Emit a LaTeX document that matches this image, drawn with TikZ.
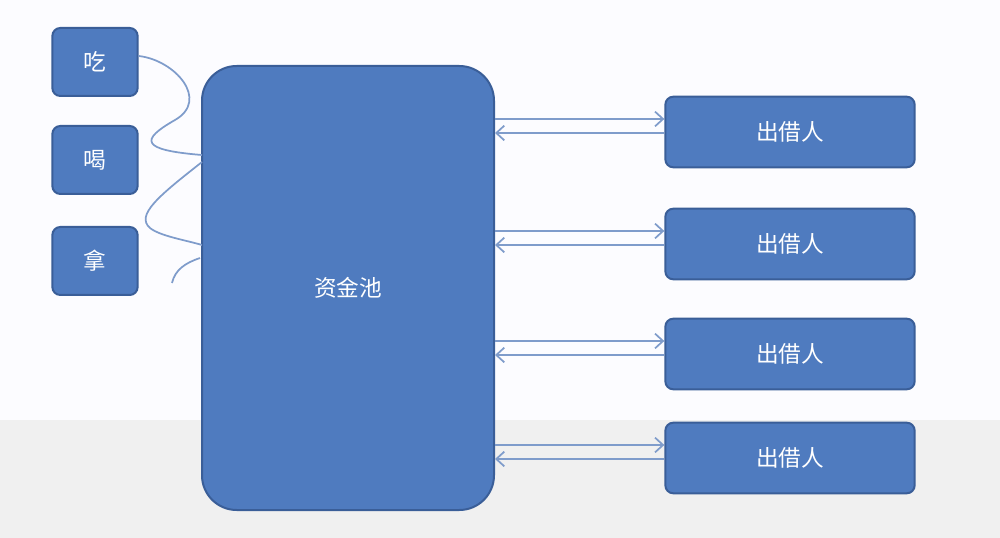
\documentclass[tikz,border=0pt]{standalone}
\usepackage{fontspec}
\newfontfamily\cjk{Noto Sans CJK SC}
\usetikzlibrary{arrows.meta}
\definecolor{bfill}{HTML}{4F7BBF}
\definecolor{bdraw}{HTML}{3A5E98}
\definecolor{lline}{HTML}{7F9CCB}
\begin{document}
\begin{tikzpicture}[x=0.75pt,y=-0.75pt,
  box/.style={draw=bdraw,line width=1.5pt,fill=bfill,rounded corners=6pt,text=white,font=\cjk\fontsize{17}{20}\selectfont},
  wave/.style={draw=lline,line width=1.3pt},
  arr/.style={draw=lline,line width=1.3pt,-{Straight Barb[length=6pt,width=11pt]}}]
\fill[white!96!blue!30!white] (0,0) rectangle (1000,538);
\fill[black!6] (0,420) rectangle (1000,538);
\useasboundingbox (0,0) rectangle (1000,538);
\node[box,minimum width=64pt,minimum height=51pt] (chi) at (95,62) {吃};
\node[box,minimum width=64pt,minimum height=51pt] (he) at (95,160) {喝};
\node[box,minimum width=64pt,minimum height=51pt] (na) at (95,261) {拿};
\node[box,rounded corners=26pt,minimum width=219pt,minimum height=333pt] (pool) at (348,288) {资金池};
\foreach \i/\y in {1/132,2/244,3/354,4/458}{
  \node[box,minimum width=187pt,minimum height=53pt] (l\i) at (790,\y) {出借人};
  \draw[arr] ([yshift=9.75pt]pool.east |- l\i) -- ([yshift=9.75pt]l\i.west);
  \draw[arr] ([yshift=-0.75pt]l\i.west) -- ([yshift=-0.75pt]pool.east |- l\i);
}
\coordinate (w1) at (202,155);
\coordinate (w2) at (202,162);
\coordinate (w3) at (202,245);
\coordinate (w4) at (200,258);
\coordinate (w5) at (172,283);
\draw[wave] (chi.east) ++(0,-6) .. controls (175,60) and (210,100) .. (175,120) .. controls (140,140) and (140,150) .. (w1);
\draw[wave] (w2) .. controls (160,195) and (135,215) .. (150,228) .. controls (160,236) and (185,240) .. (w3);
\draw[wave] (w4) .. controls (185,263) and (175,270) .. (w5);
\end{tikzpicture}
\end{document}
